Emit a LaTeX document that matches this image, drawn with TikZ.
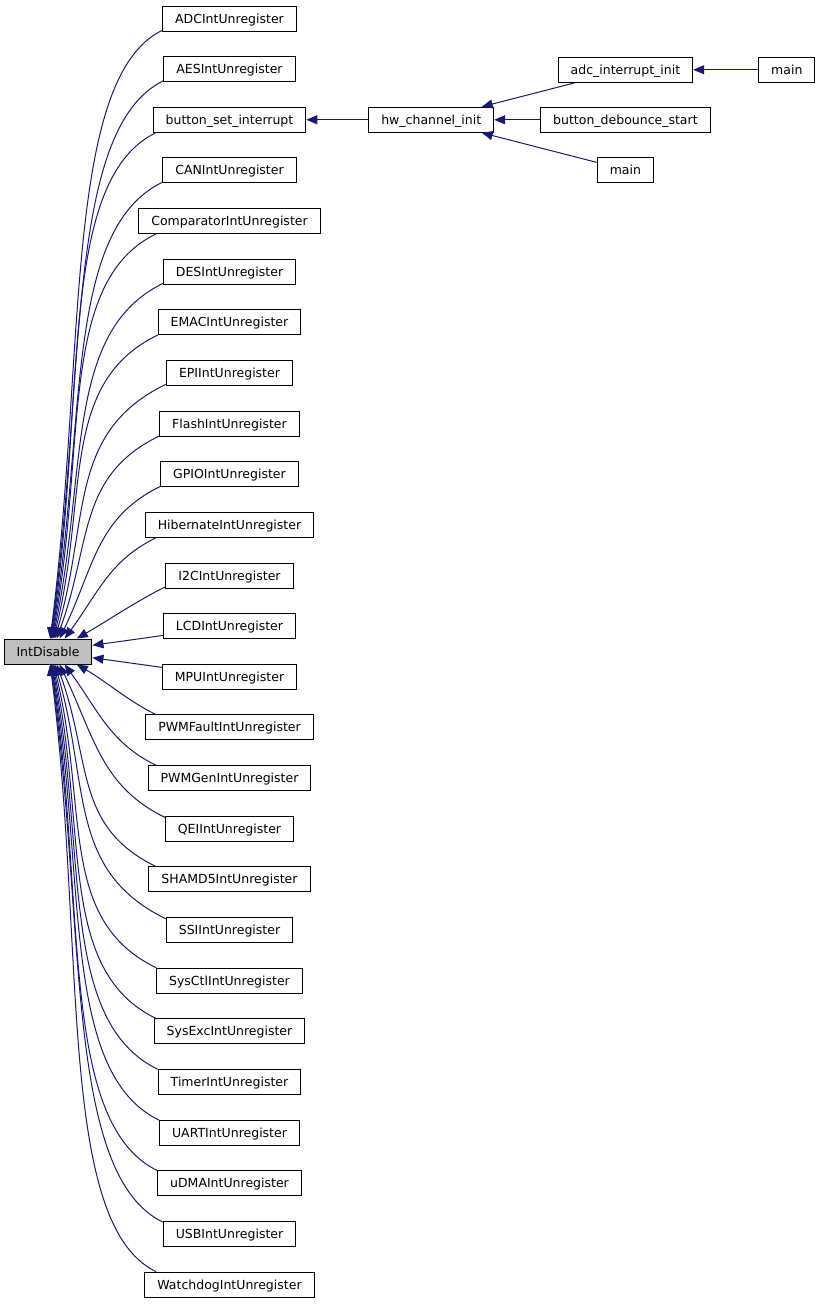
\documentclass[tikz,border=0pt]{standalone}
\usepackage{fontspec}
\setmainfont{DejaVu Sans}
\usepackage{tikz}
\usetikzlibrary{
  arrows.meta,
  positioning,
  calc
}
\definecolor{cgEdge}{HTML}{191970}
\definecolor{cgFocus}{HTML}{BFBFBF}
\tikzset{
  fnnode/.style={
    draw=black, fill=white, line width=1pt, minimum height=25pt,
    inner xsep=12.5pt, inner ysep=0pt, text height=10pt, text depth=1pt,
    font=\fontsize{12.5}{15}\selectfont
  },
  focus/.style={fnnode, fill=cgFocus},
  calledge/.style={-{Triangle[length=11pt, width=9pt]}, cgEdge, line width=1pt}
}

\begin{document}
\begin{tikzpicture}[x=1pt, y=1pt, node distance=24.64pt]
  \useasboundingbox (0,0) rectangle (819,-1304);
  \node[focus] (IntDisable) at (48,-651.5) {IntDisable};
  \node[fnnode] (adc) at (229.5,-18.5) {ADCIntUnregister};
  \node[fnnode, below=of adc] (aes) {AESIntUnregister};
  \node[fnnode, below=of aes] (btn) {button\_set\_interrupt};
  \node[fnnode, below=of btn] (can) {CANIntUnregister};
  \node[fnnode, below=of can] (comp) {ComparatorIntUnregister};
  \node[fnnode, below=of comp] (des) {DESIntUnregister};
  \node[fnnode, below=of des] (emac) {EMACIntUnregister};
  \node[fnnode, below=of emac] (epi) {EPIIntUnregister};
  \node[fnnode, below=of epi] (flash) {FlashIntUnregister};
  \node[fnnode, below=of flash] (gpio) {GPIOIntUnregister};
  \node[fnnode, below=of gpio] (hib) {HibernateIntUnregister};
  \node[fnnode, below=of hib] (itc) {I2CIntUnregister};
  \node[fnnode, below=of itc] (lcd) {LCDIntUnregister};
  \node[fnnode, below=of lcd] (mpu) {MPUIntUnregister};
  \node[fnnode, below=of mpu] (pwmf) {PWMFaultIntUnregister};
  \node[fnnode, below=of pwmf] (pwmg) {PWMGenIntUnregister};
  \node[fnnode, below=of pwmg] (qei) {QEIIntUnregister};
  \node[fnnode, below=of qei] (sha) {SHAMD5IntUnregister};
  \node[fnnode, below=of sha] (ssi) {SSIIntUnregister};
  \node[fnnode, below=of ssi] (sysctl) {SysCtlIntUnregister};
  \node[fnnode, below=of sysctl] (sysexc) {SysExcIntUnregister};
  \node[fnnode, below=of sysexc] (timer) {TimerIntUnregister};
  \node[fnnode, below=of timer] (uart) {UARTIntUnregister};
  \node[fnnode, below=of uart] (udma) {uDMAIntUnregister};
  \node[fnnode, below=of udma] (usb) {USBIntUnregister};
  \node[fnnode, below=of usb] (wdog) {WatchdogIntUnregister};

  \node[fnnode, right=62pt of btn] (hwInit) {hw\_channel\_init};
  \node[fnnode, right=46pt of hwInit] (debounce) {button\_debounce\_start};
  \node[fnnode, above=24pt of debounce] (adcInit) {adc\_interrupt\_init};
  \node[fnnode, below=24pt of debounce] (mainB) {main};
  \node[fnnode, right=65pt of adcInit] (mainA) {main};

  % callers above IntDisable
  \foreach \n/\i in {adc/0, aes/1, btn/2, can/3, comp/4, des/5, emac/6,
                     epi/7, flash/8, gpio/9, hib/10, itc/11} {
    \pgfmathsetmacro{\dd}{651.5 - (18.5 + 50.64*\i)}
    \pgfmathsetmacro{\ex}{43 + 2300/\dd}
    \pgfmathsetmacro{\ia}{90 - 60*76/\dd}
    \pgfmathsetmacro{\od}{min(110, 0.4*\dd)}
    \pgfmathsetmacro{\id}{0.45*\dd}
    \draw[calledge] (\n.190) to[out=206, in=\ia, out distance=\od pt, in distance=\id pt]
      ($(IntDisable.north west)+(\ex,0)$);
  }
  % callers below IntDisable
  \foreach \n/\i in {pwmf/14, pwmg/15, qei/16, sha/17, ssi/18, sysctl/19, sysexc/20,
                     timer/21, uart/22, udma/23, usb/24, wdog/25} {
    \pgfmathsetmacro{\dd}{(18.5 + 50.64*\i) - 651.5}
    \pgfmathsetmacro{\ex}{43 + 2300/\dd}
    \pgfmathsetmacro{\ia}{-(90 - 60*76/\dd)}
    \pgfmathsetmacro{\od}{min(110, 0.4*\dd)}
    \pgfmathsetmacro{\id}{0.45*\dd}
    \draw[calledge] (\n.170) to[out=154, in=\ia, out distance=\od pt, in distance=\id pt]
      ($(IntDisable.south west)+(\ex,0)$);
  }
  \draw[calledge] (lcd) -- (IntDisable);
  \draw[calledge] (mpu) -- (IntDisable);

  \draw[calledge] (hwInit) -- (btn);
  \draw[calledge] (adcInit) -- (hwInit);
  \draw[calledge] (debounce) -- (hwInit);
  \draw[calledge] (mainB) -- (hwInit);
  \draw[calledge] (mainA) -- (adcInit);
\end{tikzpicture}
\end{document}
